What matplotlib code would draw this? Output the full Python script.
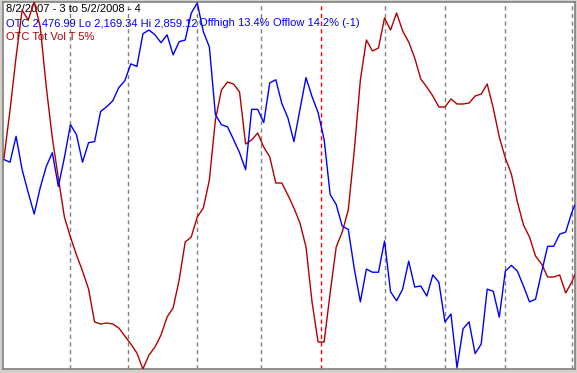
import numpy as np
import matplotlib
matplotlib.use("Agg")
import matplotlib.pyplot as plt

# trading-day index (8/2/2007 .. 5/2/2008), read every 2nd day
day = np.r_[np.arange(0, 189, 2), 189]

# OTC close (blue)
otc = [2563, 2558, 2607, 2544, 2501, 2460, 2510, 2550, 2576, 2512,
       2567, 2629, 2610, 2558, 2595, 2597, 2654, 2663, 2674, 2699,
       2712, 2744, 2739, 2801, 2808, 2799, 2784, 2799, 2761, 2786,
       2789, 2840, 2859.12, 2805, 2776, 2648, 2629, 2625, 2601, 2576,
       2544, 2658, 2658, 2633, 2708, 2714, 2669, 2642, 2597, 2658,
       2718, 2682, 2652, 2601, 2497, 2478, 2437, 2431, 2356, 2294,
       2356, 2350, 2350, 2409, 2313, 2296, 2318, 2371, 2322, 2324,
       2305, 2345, 2331, 2256, 2271, 2169.34, 2243, 2256, 2196, 2214,
       2318, 2314, 2265, 2352, 2363, 2352, 2324, 2294, 2299, 2350,
       2399, 2399, 2422, 2426, 2463, 2476.99]

# OTC total volume, 5% trend (red)
vol = [2284, 2380, 2486, 2580, 2560, 2596, 2546, 2426, 2324, 2244,
       2166, 2126, 2090, 2058, 2022, 1956, 1952, 1954, 1952, 1944,
       1928, 1912, 1894, 1862, 1890, 1906, 1930, 1966, 1984, 2040,
       2116, 2126, 2166, 2184, 2240, 2360, 2420, 2436, 2432, 2416,
       2312, 2320, 2334, 2306, 2286, 2234, 2234, 2210, 2184, 2154,
       2106, 1996, 1916, 1916, 2014, 2106, 2136, 2180, 2300, 2440,
       2520, 2498, 2504, 2564, 2540, 2574, 2538, 2516, 2484, 2442,
       2426, 2408, 2386, 2386, 2402, 2392, 2392, 2394, 2408, 2412,
       2432, 2384, 2326, 2284, 2252, 2196, 2150, 2126, 2088, 2072,
       2046, 2046, 2050, 2014, 2036, 2050]

# first trading day of each month (index)
month_starts = [22, 41, 64, 85, 126, 146, 166, 188]
year_start = 105

header = "8/2/2007 - 3 to 5/2/2008 - 4"
otc_parts = ["OTC 2,476.99 Lo 2,169.34 Hi 2,859.12", "Offhigh 13.4%",
             "Offlow 14.2% (-1)"]
otc_part_px = [6, 199, 273]
vol_label = "OTC Tot Vol T 5%"

W, H = 577, 373
fig = plt.figure(figsize=(W / 100, H / 100), dpi=100)
fig.patch.set_facecolor('#d4d0c8')

ax = fig.add_axes([3 / W, (H - 369) / H, 572 / W, 367 / H])
ax.set_facecolor('white')
ax2 = ax.twinx()

for m in month_starts:
    ax.axvline(m, color='#808080', lw=1, dashes=(3, 2.5), zorder=1)
ax.axvline(year_start, color='#ff0000', lw=1, dashes=(3, 2.5), zorder=1)

ax.plot(day, vol, color='#b40000', lw=1.0, zorder=3)
ax2.plot(day, otc, color='#0000ff', lw=1.0, zorder=3)

ax.set_xlim(-0.33, 189.07)
ax.set_ylim(1862, 2596)
ax2.set_ylim(2167, 2861)

for a in (ax, ax2):
    a.set_xticks([])
    a.set_yticks([])
for s in ax.spines.values():
    s.set_color('#808080')
    s.set_linewidth(1.2)
for s in ax2.spines.values():
    s.set_visible(False)

fnt = dict(family='Liberation Sans', fontsize=8.0, transform=ax.transAxes,
           va='baseline', zorder=2)
ax.text(3 / 572, 0.9714, header, color='black', **fnt)
for t, px in zip(otc_parts, otc_part_px):
    ax.text((px - 3) / 572, 0.9346, t, color='#0000ff', **fnt)
ax.text(3 / 572, 0.8978, vol_label, color='#b40000', **fnt)

fig.savefig("out.png", dpi=100, facecolor=fig.get_facecolor())
